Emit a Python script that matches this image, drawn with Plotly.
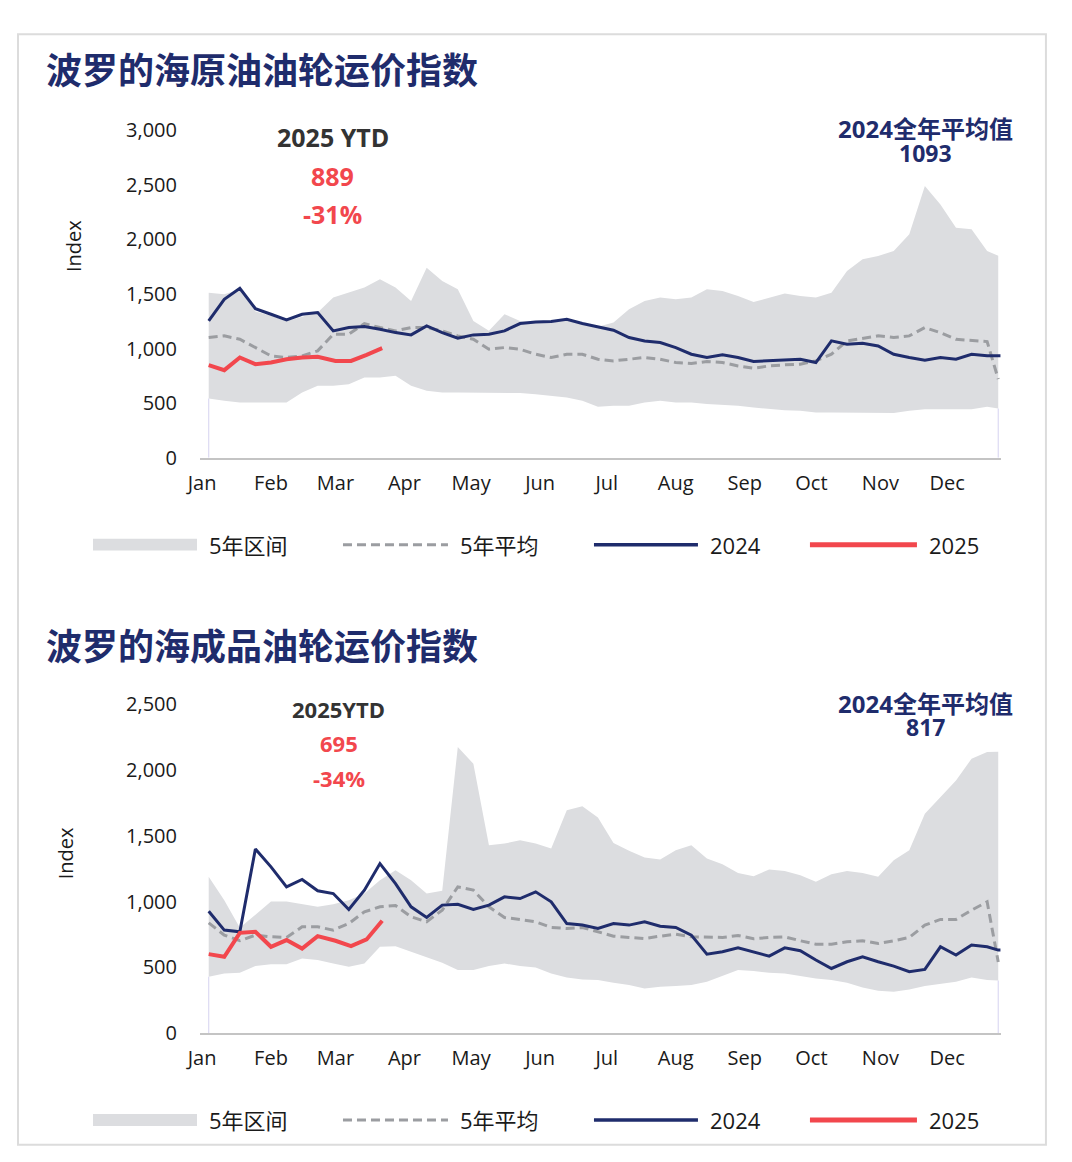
import plotly.graph_objects as go

# ---------------- data ----------------
week_dates = ["01-04", "01-11", "01-18", "01-25", "02-01", "02-08", "02-15", "02-22", "02-29",
              "03-07", "03-14", "03-21", "03-28", "04-04", "04-11", "04-18", "04-25",
              "05-02", "05-09", "05-16", "05-23", "05-30", "06-06", "06-13", "06-20", "06-27",
              "07-04", "07-11", "07-18", "07-25", "08-01", "08-08", "08-15", "08-22", "08-29",
              "09-05", "09-12", "09-19", "09-26", "10-03", "10-10", "10-17", "10-24", "10-31",
              "11-07", "11-14", "11-21", "11-28", "12-05", "12-12", "12-19", "12-24"]
ytd_dates = ["01-04", "01-11", "01-18", "01-25", "02-01", "02-08", "02-15", "02-22",
             "03-01", "03-08", "03-15", "03-22"]

month_starts = ["01-01", "02-01", "03-01", "04-01", "05-01", "06-01", "07-01", "08-01",
                "09-01", "10-01", "11-01", "12-01"]
month_labels = ["Jan", "Feb", "Mar", "Apr", "May", "Jun", "Jul", "Aug", "Sep", "Oct", "Nov", "Dec"]

# Crude tanker index
crude_upper = [1512, 1497, 1540, 1340, 1300, 1250, 1290, 1330, 1467, 1512, 1558, 1634, 1558,
               1436, 1741, 1619, 1543, 1253, 1162, 1314, 1253, 1238, 1240, 1260, 1225, 1200,
               1238, 1360, 1436, 1467, 1451, 1467, 1543, 1528, 1482, 1427, 1467, 1503, 1482,
               1467, 1512, 1710, 1817, 1848, 1893, 2046, 2488, 2320, 2107, 2092, 1893, 1850]
crude_lower = [543, 521, 506, 506, 506, 506, 598, 659, 659, 674, 735, 735, 750, 659, 613, 598,
               598, 598, 598, 598, 592, 582, 567, 552, 521, 466, 476, 476, 506, 521, 506, 506,
               491, 485, 476, 460, 445, 436, 430, 415, 415, 415, 415, 415, 409, 430, 445, 445,
               445, 445, 466, 450]
crude_mean = [1101, 1116, 1085, 1009, 933, 918, 933, 979, 1131, 1131, 1229, 1192, 1162, 1192,
              1192, 1162, 1116, 1085, 994, 1009, 994, 948, 918, 948, 948, 902, 887, 902, 918,
              902, 872, 863, 881, 872, 841, 820, 841, 851, 857, 887, 948, 1070, 1095, 1116,
              1101, 1116, 1192, 1146, 1085, 1076, 1064, 720]
crude_2024 = [1253, 1451, 1552, 1365, 1314, 1262, 1314, 1329, 1162, 1192, 1201, 1177, 1146,
              1125, 1207, 1146, 1095, 1125, 1131, 1162, 1229, 1244, 1247, 1268, 1229, 1200,
              1168, 1101, 1070, 1055, 1009, 948, 918, 942, 918, 881, 887, 893, 902, 872, 1070,
              1040, 1049, 1024, 948, 918, 893, 918, 902, 948, 933, 933]
crude_2025 = [848, 802, 918, 857, 872, 902, 918, 924, 887, 887, 942, 1003]

# Clean (product) tanker index
clean_upper = [1188, 1011, 800, 900, 1000, 1000, 980, 960, 980, 1011, 1061, 1163, 1239, 1163,
               1061, 1082, 2176, 2049, 1429, 1441, 1467, 1441, 1403, 1695, 1725, 1640, 1446,
               1386, 1335, 1320, 1391, 1429, 1327, 1284, 1218, 1193, 1244, 1233, 1201, 1150,
               1208, 1233, 1218, 1188, 1315, 1391, 1669, 1796, 1922, 2087, 2138, 2140]
clean_lower = [428, 453, 458, 509, 524, 524, 567, 555, 529, 504, 529, 656, 661, 618, 575, 534,
               479, 479, 509, 529, 509, 499, 453, 423, 408, 403, 382, 365, 339, 352, 357, 365,
               390, 433, 479, 471, 458, 453, 433, 415, 403, 382, 347, 322, 314, 332, 357, 372,
               390, 423, 403, 400]
clean_mean = [838, 745, 702, 745, 732, 727, 808, 808, 783, 833, 922, 960, 970, 884, 846, 935,
              1112, 1087, 960, 879, 864, 846, 803, 795, 803, 770, 737, 727, 719, 737, 752, 732,
              727, 727, 742, 717, 727, 732, 702, 676, 676, 694, 702, 681, 702, 727, 821, 864,
              864, 935, 998, 540]
clean_2024 = [927, 783, 770, 1400, 1264, 1112, 1168, 1082, 1061, 940, 1087, 1289, 1137, 960,
              879, 973, 980, 940, 973, 1036, 1023, 1074, 998, 833, 821, 795, 833, 821, 846,
              813, 803, 745, 600, 618, 648, 618, 585, 648, 626, 555, 491, 542, 580, 542, 509,
              466, 484, 656, 593, 669, 656, 631]
clean_2025 = [600, 580, 762, 770, 656, 707, 643, 737, 702, 661, 712, 854]

titles = ["波罗的海原油油轮运价指数", "波罗的海成品油轮运价指数"]
ytd_labels = ["2025 YTD", "2025YTD"]
ytd_values = ["889", "695"]
ytd_changes = ["-31%", "-34%"]
avg_labels = ["2024全年平均值", "2024全年平均值"]
avg_values = ["1093", "817"]
legend_names = ["5年区间", "5年平均", "2024", "2025"]

# ---------------- styling ----------------
W, H = 1072, 1162
# the photographed page appears slightly scaled/offset; compensate so that
# the layout lands on the intended window pixels
SX, OX, SY, OY = 0.987, 13.0, 0.978, 12.7
NAVY = "#1f2c6c"
RED = "#f2474d"
BAND = "#dcdde0"
MEAN = "#9b9da1"
EDGE = "#dcdaf2"
TXT = "#1a1a1a"
LAT = "Open Sans, Noto Sans CJK SC, sans-serif"
CJK = "Noto Sans CJK SC, sans-serif"


def px(x):
    return ((x - OX) / SX) / W


def py(y):
    return 1 - ((y - OY) / SY) / H


def d(md):
    return "2024-" + md


xd = [d(m) for m in week_dates]
xr = [d(m) for m in ytd_dates]

fig = go.Figure()

charts = [
    dict(upper=crude_upper, lower=crude_lower, mean=crude_mean, y24=crude_2024, y25=crude_2025,
         xa="x", ya="y"),
    dict(upper=clean_upper, lower=clean_lower, mean=clean_mean, y24=clean_2024, y25=clean_2025,
         xa="x2", ya="y2"),
]

for c in charts:
    kw = dict(xaxis=c["xa"], yaxis=c["ya"], showlegend=False, hoverinfo="skip")
    fig.add_trace(go.Scatter(x=xd, y=c["lower"], mode="lines",
                             line=dict(width=0, color="rgba(0,0,0,0)"), **kw))
    fig.add_trace(go.Scatter(x=xd, y=c["upper"], mode="lines", fill="tonexty",
                             fillcolor=BAND, line=dict(width=0, color=BAND), **kw))
    fig.add_trace(go.Scatter(x=[xd[0], xd[0], None, xd[-1], xd[-1]],
                             y=[0, c["lower"][0], None, 0, c["lower"][-1]],
                             mode="lines", line=dict(width=1.2, color=EDGE), **kw))
    fig.add_trace(go.Scatter(x=xd, y=c["mean"], mode="lines",
                             line=dict(width=3, color=MEAN, dash="9px,5px"), **kw))
    fig.add_trace(go.Scatter(x=xd + [d("12-25")], y=c["y24"] + [c["y24"][-1]], mode="lines",
                             line=dict(width=3, color=NAVY), **kw))
    fig.add_trace(go.Scatter(x=xr, y=c["y25"], mode="lines",
                             line=dict(width=4, color=RED), **kw))

xaxis_common = dict(
    type="date",
    range=["2023-12-31 02:00", "2024-12-25 05:00"],
    tickvals=[d(m) for m in month_starts],
    ticktext=month_labels,
    showgrid=False, zeroline=False,
    showline=True, linecolor="#c4c4c4", linewidth=2,
    ticks="", tickfont=dict(family=LAT, size=20, color=TXT),
    ticklabelstandoff=6,
    domain=[px(199), px(1000)],
    fixedrange=True,
)
yaxis_common = dict(
    showgrid=False, zeroline=False, showline=False, ticks="",
    tickformat=",", tickfont=dict(family=LAT, size=20, color=TXT),
    ticklabelstandoff=22, fixedrange=True,
)

fig.update_layout(
    width=W, height=H,
    margin=dict(l=0, r=0, t=0, b=0),
    paper_bgcolor="white", plot_bgcolor="white",
    showlegend=False,
    xaxis=dict(**xaxis_common, anchor="y"),
    yaxis=dict(**yaxis_common, anchor="x", domain=[py(457), py(129)], range=[0, 3000],
               tickvals=[0, 500, 1000, 1500, 2000, 2500, 3000]),
    xaxis2=dict(**xaxis_common, anchor="y2"),
    yaxis2=dict(**yaxis_common, anchor="x2", domain=[py(1033), py(704)], range=[0, 2500],
                tickvals=[0, 500, 1000, 1500, 2000, 2500]),
)

ann = []
shapes = []

# outer frame
shapes.append(dict(type="rect", xref="paper", yref="paper",
                   x0=px(17), x1=px(1045), y0=py(1145), y1=py(33),
                   line=dict(color="#dcdcdc", width=2), fillcolor="rgba(0,0,0,0)", layer="below"))

title_y = [67, 643]
ytd_x = [332, 338]
ytd_y = [(136, 175, 213), (709, 743, 778)]
ytd_size = [25, 22]
avg_y = [(127, 152), (703, 727)]
index_pos = [(72, 245), (64, 853)]
legend_y = [544, 1120]

for i in range(2):
    ann.append(dict(text="<b>" + titles[i] + "</b>", x=px(43), y=py(title_y[i]), xref="paper",
                    yref="paper", xanchor="left", yanchor="middle", showarrow=False,
                    font=dict(family=CJK, size=36, color=NAVY)))
    y1, y2, y3 = ytd_y[i]
    for txt, yy, col in [(ytd_labels[i], y1, "#333333"), (ytd_values[i], y2, RED),
                         (ytd_changes[i], y3, RED)]:
        ann.append(dict(text="<b>" + txt + "</b>", x=px(ytd_x[i]), y=py(yy),
                        xref="paper", yref="paper", xanchor="center", yanchor="middle",
                        showarrow=False, font=dict(family=LAT, size=ytd_size[i], color=col)))
    a1, a2 = avg_y[i]
    ann.append(dict(text="<b>" + avg_labels[i] + "</b>", x=px(925), y=py(a1), xref="paper",
                    yref="paper", xanchor="center", yanchor="middle", showarrow=False,
                    font=dict(family=LAT, size=24, color=NAVY)))
    ann.append(dict(text="<b>" + avg_values[i] + "</b>", x=px(925), y=py(a2), xref="paper",
                    yref="paper", xanchor="center", yanchor="middle", showarrow=False,
                    font=dict(family=LAT, size=23, color=NAVY)))
    ix, iy = index_pos[i]
    ann.append(dict(text="Index", x=px(ix), y=py(iy), xref="paper", yref="paper",
                    xanchor="center", yanchor="middle", textangle=-90, showarrow=False,
                    font=dict(family=LAT, size=20, color=TXT)))

    # custom legend
    ly = legend_y[i]
    shapes.append(dict(type="rect", xref="paper", yref="paper", x0=px(92), x1=px(196),
                       y0=py(ly + 6), y1=py(ly - 6), fillcolor=BAND, line=dict(width=0)))
    shapes.append(dict(type="line", xref="paper", yref="paper", x0=px(342), x1=px(447),
                       y0=py(ly), y1=py(ly), line=dict(color=MEAN, width=3, dash="9px,5px")))
    shapes.append(dict(type="line", xref="paper", yref="paper", x0=px(593), x1=px(697),
                       y0=py(ly), y1=py(ly), line=dict(color=NAVY, width=3.5)))
    shapes.append(dict(type="line", xref="paper", yref="paper", x0=px(809), x1=px(916),
                       y0=py(ly), y1=py(ly), line=dict(color=RED, width=5)))
    for name, lx in zip(legend_names, [206, 457, 707, 926]):
        ann.append(dict(text=name, x=px(lx), y=py(ly), xref="paper", yref="paper",
                        xanchor="left", yanchor="middle", showarrow=False,
                        font=dict(family=LAT, size=22, color=TXT)))

fig.update_layout(annotations=ann, shapes=shapes)

fig.write_html("out.html", config={"displayModeBar": False},
               post_script="document.body.style.margin='0';")
